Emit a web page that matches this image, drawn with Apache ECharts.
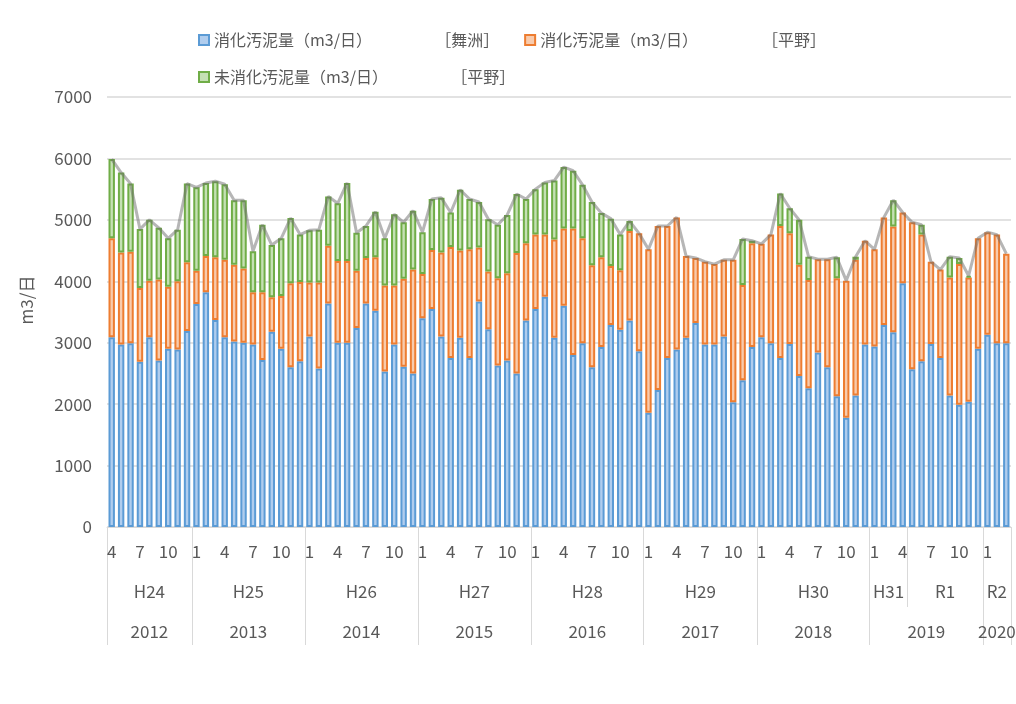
<!DOCTYPE html>
<html>
<head>
<meta charset="utf-8">
<script src="https://cdn.jsdelivr.net/npm/echarts@6/dist/echarts.min.js"></script>
<style>
html, body { margin: 0; padding: 0; background: #fff; }
#sludge-chart { width: 1016px; height: 704px; }
</style>
</head>
<body>
<div id="sludge-chart"></div>
<script>
// calendar years and how many months each one has in the chart (Apr 2012 - Mar 2020)
const yearLabels = ['2012', '2013', '2014', '2015', '2016', '2017', '2018', '2019', '2020'];
const yearMonthCounts = [9, 12, 12, 12, 12, 12, 12, 12, 3];
// japanese era year labels (second label row)
const eraLabels = ['H24', 'H25', 'H26', 'H27', 'H28', 'H29', 'H30', 'H31', 'R1', 'R2'];
const eraMonthCounts = [9, 12, 12, 12, 12, 12, 12, 4, 8, 3];
const monthTicks = [1, 4, 7, 10];

const seriesNames = [
  '消化汚泥量（m3/日）　　　　  ［舞洲］',
  '消化汚泥量（m3/日）　　　　　［平野］',
  '未消化汚泥量（m3/日）　　　　  ［平野］'
];

// 消化汚泥量 舞洲
const maishima = [
  3090, 2970, 2990, 2690, 3090, 2710, 2900, 2890, 3190,
  3630, 3820, 3370, 3090, 3020, 3000, 2970, 2720, 3180, 2900, 2600, 2700,
  3100, 2580, 3640, 3000, 3000, 3240, 3640, 3520, 2530, 2970, 2610, 2500,
  3400, 3550, 3100, 2750, 3080, 2750, 3670, 3220, 2630, 2710, 2500, 3360,
  3550, 3750, 3080, 3600, 2800, 2990, 2600, 2930, 3290, 3210, 3360, 2860,
  1860, 2230, 2750, 2890, 3080, 3320, 2970, 2970, 3100, 2030, 2390, 2930,
  3090, 2990, 2750, 2980, 2460, 2260, 2840, 2600, 2130, 1780, 2140, 2970,
  2940, 3290, 3170, 3970, 2570, 2700, 2980, 2750, 2140, 1990, 2040, 2900,
  3130, 2990, 2990
];
// 消化汚泥量 平野
const hiranoDigested = [
  1610, 1500, 1490, 1200, 920, 1320, 1010, 1110, 1120,
  540, 590, 1020, 1260, 1250, 1210, 850, 1100, 560, 860, 1370, 1290,
  880, 1400, 940, 1330, 1330, 930, 740, 870, 1400, 960, 1430, 1690,
  720, 960, 1370, 1810, 1420, 1770, 880, 940, 1420, 1420, 1960, 1260,
  1210, 1010, 1600, 1260, 2060, 1710, 1660, 1460, 960, 970, 1460, 1920,
  2660, 2670, 2150, 2150, 1330, 1060, 1350, 1310, 1250, 2320, 1550, 1690,
  1520, 1770, 2150, 1800, 1810, 1760, 1520, 1760, 1920, 2230, 2210, 1690,
  1580, 1750, 1720, 1150, 2390, 2060, 1340, 1440, 1920, 2290, 2020, 1800,
  1670, 1770, 1460
];
// 未消化汚泥量 平野 (null = no value that month)
const hiranoRaw = [
  1290, 1300, 1110, 960, 990, 840, 790, 840, 1280,
  1360, 1190, 1240, 1230, 1050, 1110, 670, 1100, 850, 940, 1060, 770,
  850, 860, 800, 940, 1270, 620, 520, 740, 770, 1160, 920, 960,
  680, 830, 890, 560, 990, 820, 740, 850, 870, 950, 960, 720,
  740, 850, 960, 1000, 940, 870, 1030, 720, 770, 580, 160, null,
  null, null, null, null, null, null, null, null, null, null, 750, 40,
  null, null, 530, 410, 730, 380, null, null, 340, null, 50, null,
  null, null, 430, null, null, 160, null, null, 340, 100, 30, null,
  null, null, null
];

const FONT = "'Noto Sans CJK JP', 'Noto Sans', sans-serif";
const TEXT_COLOR = '#595959';
const LINE_COLOR = '#d9d9d9';

// month categories, e.g. '2012/4'
const months = [];
yearLabels.forEach((y, k) => {
  const first = k === 0 ? 4 : 1;
  for (let j = 0; j < yearMonthCounts[k]; j++) months.push(y + '/' + (first + j));
});
const total = months.map((_, i) => maishima[i] + hiranoDigested[i] + (hiranoRaw[i] || 0));

// group starts and label centres on a 0..n scale
const groupInfo = (counts, labels) => {
  let start = 0;
  const starts = [], centers = {};
  counts.forEach((c, k) => {
    starts.push(start);
    centers[String(start + c / 2)] = labels[k];
    start += c;
  });
  return {starts, centers};
};
const yearGroups = groupInfo(yearMonthCounts, yearLabels);
const eraGroups = groupInfo(eraMonthCounts, eraLabels);
// only the H31 / R1 split is not on a year boundary
const eraOnlySplits = eraGroups.starts.filter(s => yearGroups.starts.indexOf(s) < 0);

const textStyle = {color: TEXT_COLOR, fontSize: 17, fontFamily: FONT};
const legendText = {color: TEXT_COLOR, fontSize: 16, fontFamily: FONT};

const labelAxis = (centers, margin) => ({
  type: 'value',
  position: 'bottom',
  min: 0,
  max: months.length,
  interval: 0.5,
  axisLine: {show: false},
  axisTick: {show: false},
  splitLine: {show: false},
  axisLabel: Object.assign({
    margin: margin,
    showMinLabel: true,
    showMaxLabel: true,
    formatter: v => centers[String(v)] || ''
  }, textStyle)
});

const options = {
  backgroundColor: '#fff',
  animation: false,
  legend: [
    {
      data: seriesNames.slice(0, 2),
      left: 193,
      top: 27,
      icon: 'rect',
      itemWidth: 10,
      itemHeight: 10,
      itemGap: 25,
      textStyle: legendText
    },
    {
      data: seriesNames.slice(2),
      left: 193,
      top: 64,
      icon: 'rect',
      itemWidth: 10,
      itemHeight: 10,
      textStyle: legendText
    }
  ],
  grid: {
    left: 107,
    right: 5,
    top: 97,
    bottom: 177,
    containLabel: false,
    outerBoundsMode: 'none'
  },
  xAxis: [
    {
      type: 'category',
      data: months,
      position: 'bottom',
      axisLine: {lineStyle: {color: LINE_COLOR, width: 1}},
      // year boundaries run down through all label rows
      axisTick: {
        show: true,
        interval: i => yearGroups.starts.indexOf(i) >= 0,
        length: 118,
        lineStyle: {color: LINE_COLOR, width: 1}
      },
      axisLabel: Object.assign({
        margin: 16,
        interval: (i, v) => monthTicks.indexOf(+v.split('/')[1]) >= 0,
        formatter: v => v.split('/')[1]
      }, textStyle)
    },
    {
      type: 'category',
      data: months,
      position: 'bottom',
      axisLine: {show: false},
      axisLabel: {show: false},
      axisTick: {
        show: true,
        interval: i => i === 0 || eraOnlySplits.indexOf(i) >= 0,
        length: 80,
        lineStyle: {color: LINE_COLOR, width: 1}
      }
    },
    labelAxis(eraGroups.centers, 56),
    labelAxis(yearGroups.centers, 96)
  ],
  yAxis: {
    type: 'value',
    min: 0,
    max: 7000,
    interval: 1000,
    name: 'm3/日',
    nameLocation: 'middle',
    nameGap: 72,
    nameTextStyle: {color: TEXT_COLOR, fontSize: 17, fontFamily: FONT, padding: [0, 0, 0, 24]},
    axisLine: {show: false},
    axisTick: {show: false},
    axisLabel: Object.assign({margin: 15, formatter: v => String(v)}, textStyle),
    splitLine: {lineStyle: {color: LINE_COLOR, width: 1.5}}
  },
  series: [
    {
      // grey outline along the stack tops, sits behind the columns
      name: 'total',
      type: 'line',
      data: total,
      symbol: 'none',
      silent: true,
      lineStyle: {color: 'rgba(110,110,110,0.5)', width: 3}
    },
    {
      name: seriesNames[0],
      type: 'bar',
      stack: 'sludge',
      data: maishima,
      barCategoryGap: '32%',
      itemStyle: {color: '#b0cdee', borderColor: '#5b9bd5', borderWidth: 2}
    },
    {
      name: seriesNames[1],
      type: 'bar',
      stack: 'sludge',
      data: hiranoDigested,
      itemStyle: {color: '#f8cbad', borderColor: '#ed7d31', borderWidth: 2}
    },
    {
      name: seriesNames[2],
      type: 'bar',
      stack: 'sludge',
      data: hiranoRaw,
      itemStyle: {color: '#c5e0b4', borderColor: '#70ad47', borderWidth: 2}
    }
  ]
};

const chart = echarts.init(document.getElementById('sludge-chart'));
chart.setOption(options);
window.addEventListener('resize', () => chart.resize(), false);
</script>
</body>
</html>
